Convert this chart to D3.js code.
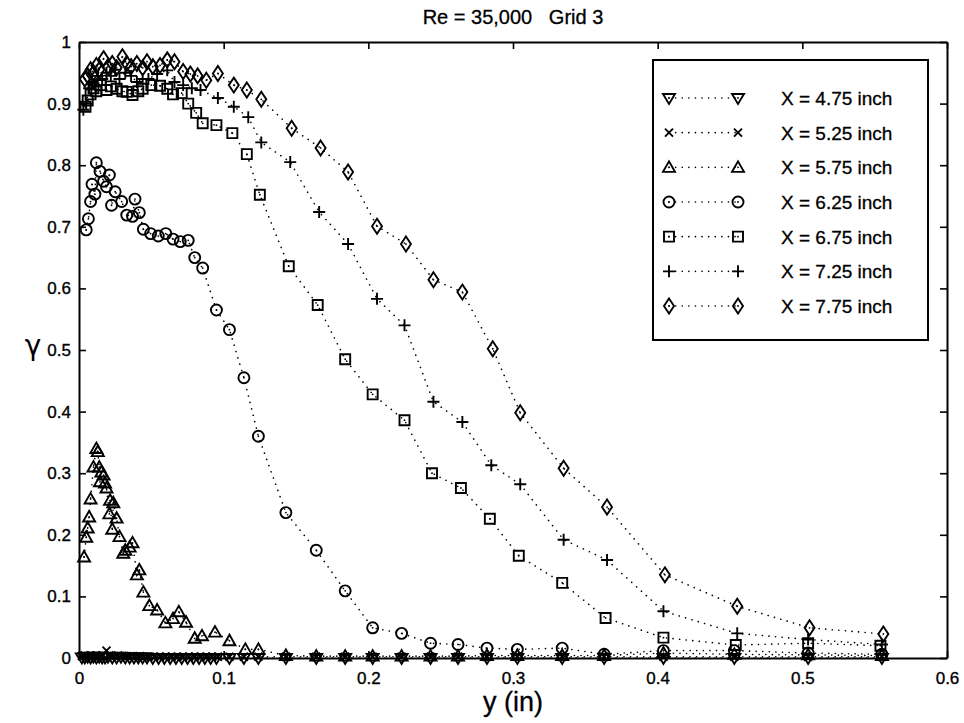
<!DOCTYPE html>
<html>
<head>
<meta charset="utf-8">
<script src="https://cdn.jsdelivr.net/npm/d3@7"></script>
<style>
    body { margin: 0; background: #fff; }
    svg { font-family: "Liberation Sans", Arial, sans-serif; }
    .tickLabel { font-size: 17px; fill: #000; stroke: #000; stroke-width: 0.35px; }
    .legendText { font-size: 19px; fill: #000; stroke: #000; stroke-width: 0.3px; }
    .title { font-size: 20px; white-space: pre; stroke: #000; stroke-width: 0.3px; }
</style>
</head>
<body>
<div id="chart"></div>
<script>
// station data: y (in) positions and gamma values, one pair of arrays per station

let yDown = [0.002,0.004,0.006,0.008,0.010,0.012,0.014,0.016,0.018,0.020,0.023,0.026,0.029,0.032,0.035,0.038,0.041,0.044,0.047,0.051,0.055,0.059,0.063,0.067,0.071,0.075,0.079,0.083,0.087,0.091,0.095,0.104,0.114,0.124,0.143,0.164,0.184,0.203,0.223,0.243,0.262,0.282,0.303,0.334,0.363,0.404,0.453,0.504,0.555];
let gDown = [0.001,0.001,0.002,0.001,0.002,0.001,0.002,0.001,0.001,0.002,0.001,0.001,0.002,0.001,0.001,0.001,0.001,0.001,0.001,0.000,0.000,0.000,0.000,0.000,0.000,0.000,0.000,0.000,0.000,0.000,0.000,0.000,0.000,0.000,0.000,0.000,0.000,0.000,0.000,0.000,0.000,0.000,0.000,0.000,0.000,0.000,0.000,0.000,0.000];

let yCross = [0.002,0.004,0.006,0.008,0.010,0.012,0.014,0.016,0.019,0.021,0.024,0.027,0.030,0.033,0.036,0.039,0.042,0.045,0.048,0.052,0.056,0.060,0.064,0.068,0.072,0.076,0.080,0.084,0.088,0.092,0.096,0.104,0.114,0.124,0.143,0.164,0.184,0.203,0.223,0.243,0.262,0.282,0.303,0.334,0.363,0.404,0.453,0.504,0.555];
let gCross = [0.003,0.004,0.003,0.004,0.003,0.004,0.003,0.004,0.012,0.004,0.003,0.004,0.003,0.003,0.003,0.002,0.003,0.002,0.002,0.002,0.002,0.002,0.002,0.002,0.002,0.002,0.002,0.002,0.002,0.002,0.002,0.002,0.002,0.002,0.002,0.002,0.002,0.002,0.002,0.002,0.002,0.002,0.002,0.002,0.002,0.002,0.002,0.002,0.002];

let yUp = [0.0035,0.005,0.006,0.007,0.008,0.010,0.012,0.013,0.014,0.0145,0.0155,0.017,0.018,0.019,0.021,0.0215,0.023,0.0237,0.026,0.028,0.0306,0.032,0.035,0.037,0.040,0.0417,0.0445,0.0486,0.054,0.0597,0.065,0.069,0.074,0.080,0.085,0.094,0.104,0.115,0.124,0.143,0.164,0.184,0.203,0.223,0.243,0.262,0.282,0.303,0.334,0.363,0.404,0.453,0.504,0.555];
let gUp = [0.164,0.196,0.211,0.229,0.258,0.310,0.340,0.335,0.310,0.286,0.302,0.297,0.284,0.276,0.234,0.256,0.209,0.252,0.227,0.197,0.170,0.175,0.180,0.187,0.135,0.143,0.107,0.085,0.078,0.057,0.064,0.075,0.058,0.032,0.036,0.042,0.028,0.014,0.014,0.004,0.003,0.003,0.003,0.003,0.003,0.003,0.004,0.004,0.004,0.004,0.008,0.006,0.005,0.004];

let yCircle = [0.005,0.0065,0.008,0.009,0.011,0.012,0.0145,0.017,0.019,0.021,0.0225,0.025,0.0295,0.033,0.037,0.0387,0.0417,0.0445,0.0495,0.0548,0.060,0.065,0.070,0.0755,0.080,0.0855,0.095,0.104,0.114,0.124,0.143,0.164,0.184,0.203,0.223,0.243,0.262,0.282,0.303,0.334,0.363,0.404,0.453,0.504,0.555];
let gCircle = [0.695,0.713,0.741,0.769,0.753,0.804,0.790,0.774,0.765,0.784,0.735,0.757,0.741,0.719,0.717,0.745,0.723,0.696,0.689,0.685,0.689,0.680,0.676,0.678,0.650,0.633,0.565,0.533,0.455,0.360,0.236,0.175,0.109,0.049,0.040,0.024,0.022,0.016,0.014,0.016,0.006,0.012,0.012,0.008,0.006];

let ySquare = [0.0045,0.006,0.008,0.010,0.012,0.015,0.019,0.022,0.026,0.030,0.033,0.037,0.041,0.044,0.050,0.056,0.061,0.065,0.071,0.0755,0.081,0.0855,0.095,0.106,0.116,0.125,0.145,0.165,0.184,0.203,0.225,0.244,0.264,0.284,0.304,0.334,0.364,0.404,0.454,0.504,0.554];
let gSquare = [0.895,0.905,0.915,0.925,0.920,0.930,0.922,0.928,0.924,0.920,0.919,0.914,0.920,0.924,0.930,0.929,0.924,0.915,0.917,0.900,0.885,0.868,0.865,0.852,0.818,0.752,0.636,0.573,0.485,0.428,0.386,0.300,0.276,0.226,0.166,0.122,0.065,0.033,0.021,0.024,0.020];

let yPlus = [0.003,0.005,0.007,0.009,0.011,0.013,0.016,0.019,0.022,0.025,0.028,0.032,0.036,0.040,0.044,0.048,0.054,0.061,0.066,0.072,0.078,0.084,0.096,0.107,0.117,0.126,0.146,0.166,0.186,0.206,0.225,0.245,0.265,0.285,0.305,0.335,0.365,0.404,0.455,0.504,0.555];
let gPlus = [0.890,0.900,0.925,0.935,0.930,0.945,0.940,0.950,0.945,0.955,0.940,0.950,0.945,0.935,0.940,0.940,0.948,0.954,0.935,0.930,0.925,0.922,0.909,0.895,0.878,0.837,0.805,0.724,0.672,0.583,0.540,0.416,0.383,0.313,0.282,0.192,0.159,0.076,0.040,0.030,0.022];

let yDiamond = [0.004,0.006,0.008,0.010,0.012,0.014,0.017,0.020,0.023,0.026,0.030,0.033,0.036,0.040,0.044,0.047,0.051,0.056,0.061,0.066,0.072,0.077,0.082,0.088,0.096,0.107,0.116,0.126,0.147,0.167,0.186,0.206,0.226,0.245,0.265,0.286,0.305,0.335,0.365,0.405,0.455,0.505,0.556];
let gDiamond = [0.940,0.945,0.955,0.950,0.962,0.955,0.973,0.960,0.965,0.958,0.976,0.965,0.960,0.965,0.958,0.968,0.960,0.962,0.971,0.968,0.952,0.948,0.945,0.938,0.949,0.930,0.922,0.907,0.860,0.828,0.789,0.701,0.672,0.614,0.594,0.502,0.398,0.308,0.245,0.135,0.084,0.049,0.039];

let seriesNames = ["X = 4.75 inch", "X = 5.25 inch", "X = 5.75 inch", "X = 6.25 inch", "X = 6.75 inch", "X = 7.25 inch", "X = 7.75 inch"];
let seriesMarkers = ["down", "cross", "up", "circle", "square", "plus", "diamond"];

let xTicks = [0, 0.1, 0.2, 0.3, 0.4, 0.5, 0.6];
let yTicks = [0, 0.1, 0.2, 0.3, 0.4, 0.5, 0.6, 0.7, 0.8, 0.9, 1];

let titleText = "Re = 35,000   Grid 3";
let xLabelText = "y (in)";
let yLabelText = "\u03b3";

let allX = [yDown, yCross, yUp, yCircle, ySquare, yPlus, yDiamond];
let allG = [gDown, gCross, gUp, gCircle, gSquare, gPlus, gDiamond];

let series = seriesNames.map((name, i) => ({
    name: name,
    marker: seriesMarkers[i],
    points: allX[i].map((x, j) => ({x: x, g: allG[i][j]}))
}));

// layout
let width = 964, height = 723;
let margin = {top: 42, right: 17, bottom: 65, left: 79};
let plotW = width - margin.left - margin.right;
let plotH = height - margin.top - margin.bottom;

let svg = d3.select("#chart").append("svg")
    .attr("width", width)
    .attr("height", height);

let xScale = d3.scaleLinear().domain([0, 0.6]).range([0, plotW]);
let yScale = d3.scaleLinear().domain([0, 1]).range([plotH, 0]);

let g = svg.append("g").attr("transform", "translate(" + margin.left + "," + margin.top + ")");

// marker path for a given symbol name
function markerPath(type) {
    if (type == "down") return "M-6,-4L6,-4L0,6Z";
    if (type == "up") return "M-6,4.5L6,4.5L0,-6Z";
    if (type == "cross") return "M-4,-4L4,4M-4,4L4,-4";
    if (type == "square") return "M-5,-5H5V5H-5Z";
    if (type == "plus") return "M-6,0H6M0,-6V6";
    if (type == "diamond") return "M0,-7.5L5,0L0,7.5L-5,0Z";
    return null;
}

function drawMarker(sel, type) {
    if (type == "circle") {
        sel.append("circle").attr("r", 5.5)
            .attr("fill", "none").attr("stroke", "#000").attr("stroke-width", 1.9);
    } else {
        sel.append("path").attr("d", markerPath(type))
            .attr("fill", "none").attr("stroke", "#000").attr("stroke-width", 1.9)
            .attr("stroke-linejoin", "miter");
    }
    // small dot in the middle, as in the original plot
    sel.append("circle").attr("r", 0.9).attr("fill", "#000");
}

let line = d3.line().x(d => xScale(d.x)).y(d => yScale(d.g));

// dotted lines
g.selectAll(".seriesLine").data(series).enter().append("path")
    .attr("class", "seriesLine")
    .attr("d", d => line(d.points))
    .attr("fill", "none")
    .attr("stroke", "#000")
    .attr("stroke-width", 1.6)
    .attr("stroke-linecap", "round")
    .attr("stroke-dasharray", "0.1,6.5");

// markers
series.forEach(s => {
    let m = g.selectAll(".m-" + s.marker).data(s.points).enter().append("g")
        .attr("class", "m-" + s.marker)
        .attr("transform", d => "translate(" + xScale(d.x) + "," + yScale(d.g) + ")");
    drawMarker(m, s.marker);
});

// axes box with inward ticks on all four sides
let xAxisB = d3.axisBottom(xScale).tickValues(xTicks).tickSizeInner(-7).tickSizeOuter(0).tickPadding(12).tickFormat(d3.format("~g"));
let yAxisL = d3.axisLeft(yScale).tickValues(yTicks).tickSizeInner(-7).tickSizeOuter(0).tickPadding(12).tickFormat(d3.format("~g"));
let xAxisT = d3.axisTop(xScale).tickValues(xTicks).tickSizeInner(-7).tickSizeOuter(0).tickFormat("");
let yAxisR = d3.axisRight(yScale).tickValues(yTicks).tickSizeInner(-7).tickSizeOuter(0).tickFormat("");

let gx = g.append("g").attr("transform", "translate(0," + plotH + ")").call(xAxisB);
let gy = g.append("g").call(yAxisL);
let gxt = g.append("g").call(xAxisT);
let gyr = g.append("g").attr("transform", "translate(" + plotW + ",0)").call(yAxisR);

[gx, gy, gxt, gyr].forEach(a => {
    a.select(".domain").attr("stroke", "#000").attr("stroke-width", 2);
    a.selectAll(".tick line").attr("stroke", "#000").attr("stroke-width", 1.6);
    a.selectAll(".tick text").attr("class", "tickLabel").attr("font-family", null).attr("font-size", null);
});
gx.selectAll(".tick text").attr("dy", "0.85em");
gy.selectAll(".tick text").attr("dx", "4px");

// title and axis labels
svg.append("text")
    .attr("class", "title")
    .attr("x", margin.left + plotW / 2)
    .attr("y", 24)
    .attr("text-anchor", "middle")
    .text(titleText);

svg.append("text")
    .attr("x", margin.left + plotW / 2)
    .attr("y", 711)
    .attr("text-anchor", "middle")
    .style("font-size", "27px")
    .style("stroke", "#000").style("stroke-width", "0.3px")
    .text(xLabelText);

svg.append("text")
    .attr("x", 33)
    .attr("y", 355)
    .attr("text-anchor", "middle")
    .style("font-family", "'DejaVu Sans', sans-serif")
    .style("font-size", "28px")
    .text(yLabelText);

// legend
let legend = {x: 653, y: 60, w: 275, h: 280};
let lg = svg.append("g");
lg.append("rect")
    .attr("x", legend.x).attr("y", legend.y)
    .attr("width", legend.w).attr("height", legend.h)
    .attr("fill", "#fff").attr("stroke", "#000").attr("stroke-width", 2);

let rowY = d3.scalePoint().domain(seriesNames).range([98, 306]);

let rows = lg.selectAll(".legendRow").data(series).enter().append("g")
    .attr("class", "legendRow")
    .attr("transform", d => "translate(0," + rowY(d.name) + ")");

rows.append("line")
    .attr("x1", 669).attr("x2", 738)
    .attr("stroke", "#000").attr("stroke-width", 1.6)
    .attr("stroke-linecap", "round").attr("stroke-dasharray", "0.1,6.5");

rows.each(function(d) {
    let row = d3.select(this);
    drawMarker(row.append("g").attr("transform", "translate(669,0)"), d.marker);
    drawMarker(row.append("g").attr("transform", "translate(738,0)"), d.marker);
});

rows.append("text")
    .attr("class", "legendText")
    .attr("x", 781).attr("y", 7)
    .text(d => d.name);
</script>
</body>
</html>
